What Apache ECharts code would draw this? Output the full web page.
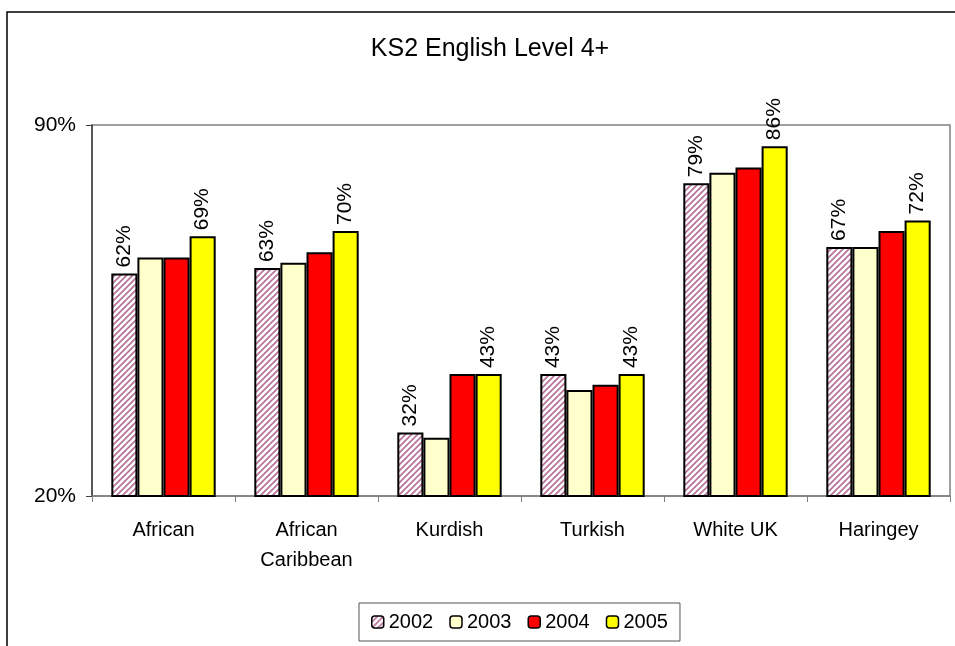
<!DOCTYPE html>
<html>
<head>
<meta charset="utf-8">
<script src="https://cdn.jsdelivr.net/npm/echarts@6/dist/echarts.min.js"></script>
<style>
  html, body { margin: 0; padding: 0; background: #fff; }
  #chart { width: 955px; height: 646px; }
</style>
</head>
<body>
<div id="chart"></div>
<script>
// data
var categories = ['African', 'African\nCaribbean', 'Kurdish', 'Turkish', 'White UK', 'Haringey'];
var years = ['2002', '2003', '2004', '2005'];
var y2002 = [62, 63, 32, 43, 79, 67];
var y2003 = [65, 64, 31, 40, 81, 67];
var y2004 = [65, 66, 43, 41, 82, 70];
var y2005 = [69, 70, 43, 43, 86, 72];
var yTicks = [20, 90];

// hatched fill for 2002
function makeHatch() {
  var c = document.createElement('canvas');
  c.width = 6; c.height = 6;
  var ctx = c.getContext('2d');
  ctx.fillStyle = '#ffffff';
  ctx.fillRect(0, 0, 6, 6);
  ctx.strokeStyle = '#b56f98';
  ctx.lineWidth = 1.6;
  ctx.beginPath();
  ctx.moveTo(-1, 7); ctx.lineTo(7, -1);
  ctx.moveTo(-4, 4); ctx.lineTo(4, -4);
  ctx.moveTo(2, 10); ctx.lineTo(10, 2);
  ctx.stroke();
  return c;
}

var font = 'Liberation Sans, Arial, sans-serif';
var myChart = echarts.init(document.getElementById('chart'));

function barLabel(show) {
  return {
    show: show,
    position: 'top',
    rotate: 90,
    align: 'left',
    verticalAlign: 'middle',
    distance: 6,
    formatter: '{c}%',
    color: '#000',
    fontSize: 21,
    fontFamily: font
  };
}

function makeSeries(name, data, color, showLabel) {
  return {
    name: name,
    type: 'bar',
    data: data,
    barGap: '0%',
    barCategoryGap: '27%',
    itemStyle: { color: color, borderColor: '#000', borderWidth: 2 },
    label: barLabel(showLabel),
    emphasis: { disabled: true }
  };
}

var option = {
  animation: false,
  textStyle: { fontFamily: font },
  title: {
    text: 'KS2 English Level 4+',
    left: 485,
    textAlign: 'center',
    top: 32,
    textStyle: { fontSize: 25, fontWeight: 'normal', color: '#000', fontFamily: font }
  },
  graphic: [{
    type: 'rect',
    shape: { x: 7, y: 12, width: 1000, height: 700 },
    style: { fill: 'none', stroke: '#000', lineWidth: 1.5 },
    silent: true
  }],
  legend: {
    data: years,
    left: 359,
    top: 603,
    padding: [9, 12, 9, 12],
    itemWidth: 12,
    itemHeight: 12,
    itemGap: 16,
    borderColor: '#555',
    borderWidth: 1,
    textStyle: { fontSize: 20, color: '#000', fontFamily: font },
    itemStyle: { borderColor: '#000', borderWidth: 1.5 }
  },
  grid: {
    left: 92,
    right: 5,
    top: 125,
    bottom: 150,
    show: true,
    borderColor: '#808080',
    borderWidth: 1.5
  },
  xAxis: {
    type: 'category',
    data: categories,
    axisLine: { lineStyle: { color: '#808080', width: 1.5 } },
    axisTick: { show: true, length: 6, lineStyle: { color: '#808080' } },
    axisLabel: { color: '#000', fontSize: 20, margin: 19, lineHeight: 30, fontFamily: font }
  },
  yAxis: {
    type: 'value',
    min: yTicks[0],
    max: yTicks[1],
    interval: yTicks[1] - yTicks[0],
    axisLine: { show: true, lineStyle: { color: '#404040', width: 1.5 } },
    axisTick: { show: true, length: 6, lineStyle: { color: '#404040' } },
    splitLine: { show: false },
    axisLabel: { color: '#000', fontSize: 21, margin: 16, formatter: '{value}%', fontFamily: font }
  },
  series: [
    makeSeries('2002', y2002, { image: makeHatch(), repeat: 'repeat' }, true),
    makeSeries('2003', y2003, '#ffffcc', false),
    makeSeries('2004', y2004, '#ff0000', false),
    makeSeries('2005', y2005, '#ffff00', true)
  ]
};

myChart.setOption(option);
</script>
</body>
</html>
